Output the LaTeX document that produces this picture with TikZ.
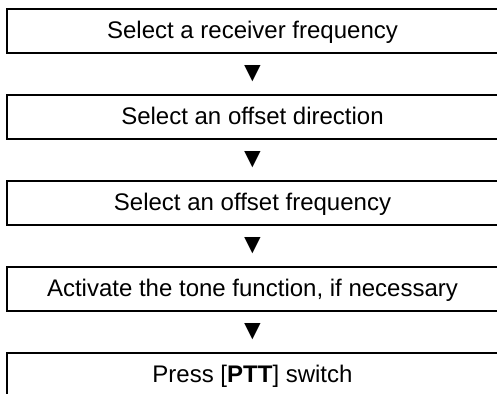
\documentclass[tikz,border=0pt]{standalone}
\usepackage{fontspec}
\setmainfont{Liberation Sans}
\usetikzlibrary{positioning}

\begin{document}
\begin{tikzpicture}[
    font=\fontsize{12}{14}\selectfont,
    node distance=0pt,
    stepbox/.style={
        draw=black,
        line width=1pt,
        minimum width=245.5pt,
        minimum height=22pt,
        text height=0.74em,
        text depth=0pt,
        inner sep=0pt,
        outer sep=0pt,
        align=center
    },
    pointer/.style={
        minimum height=21pt,
        inner sep=0pt,
        outer sep=0pt,
        font=\fontsize{14}{15}\selectfont
    }
]
    \useasboundingbox (0,0) rectangle (248.5pt,-196.5pt);

    % 1. Receiver frequency
    \node[stepbox, anchor=north west] (recv) at (3.5pt,-4.5pt) {Select a receiver frequency};
    \node[pointer, below=0pt of recv] (p1) {▼};

    % 2. Offset direction
    \node[stepbox, below=0pt of p1] (dir) {Select an offset direction};
    \node[pointer, below=0pt of dir] (p2) {▼};

    % 3. Offset frequency
    \node[stepbox, below=0pt of p2] (offs) {Select an offset frequency};
    \node[pointer, below=0pt of offs] (p3) {▼};

    % 4. Tone
    \node[stepbox, below=0pt of p3] (tone) {Activate the tone function, if necessary};
    \node[pointer, below=0pt of tone] (p4) {▼};

    % 5. Transmit
    \node[stepbox, below=0pt of p4] (ptt) {Press [\textbf{PTT}] switch};

\end{tikzpicture}
\end{document}
